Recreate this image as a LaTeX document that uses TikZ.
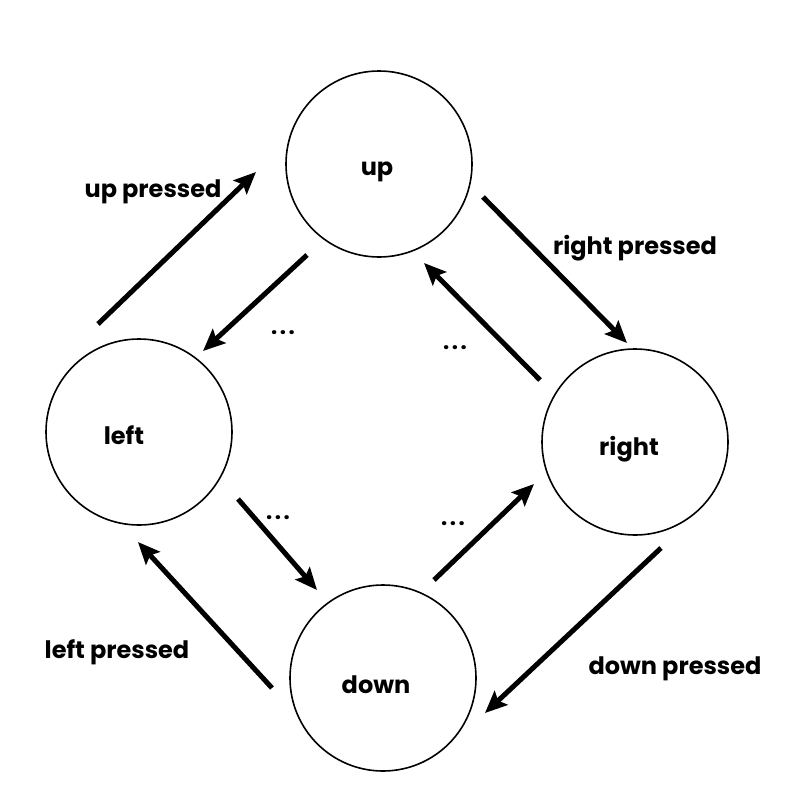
\documentclass[tikz,border=0pt]{standalone}
\usepackage{fontspec}
\setmainfont{Poppins}
\usetikzlibrary{arrows.meta}
\begin{document}
\begin{tikzpicture}[x=1pt,y=-1pt,
  state/.style={draw,circle,line width=1.6pt,minimum size=186pt,inner sep=0pt},
  conn/.style={line width=5pt,-{Stealth[length=22pt,width=19pt,inset=4pt]}},
  lbl/.style={font=\fontsize{24}{28}\selectfont\bfseries,inner sep=0pt,anchor=base},
  dots/.style={font=\fontsize{22}{26}\selectfont\bfseries,inner sep=0pt,anchor=base}]
\useasboundingbox (0,0) rectangle (800,800);
\node[state] (up) at (379,164) {};
\node[state] (left) at (139,432) {};
\node[state] (right) at (635,442) {};
\node[state] (down) at (383,678) {};
\node[lbl] (tup) at (377,175) {up};
\node[lbl] (tleft) at (124,444) {left};
\node[lbl] (tright) at (629,455) {right};
\node[lbl] (tdown) at (376,693) {down};
\node[lbl] (lup) at (153,197) {up pressed};
\node[lbl] (lright) at (635,254) {right pressed};
\node[lbl] (lleft) at (117,658) {left pressed};
\node[lbl] (ldown) at (675,674) {down pressed};
\node[dots] (d1) at (283,334) {.\hspace{2.5pt}.\hspace{2.5pt}.};
\node[dots] (d2) at (455,349) {.\hspace{2.5pt}.\hspace{2.5pt}.};
\node[dots] (d3) at (278,519) {.\hspace{2.5pt}.\hspace{2.5pt}.};
\node[dots] (d4) at (453,525) {.\hspace{2.5pt}.\hspace{2.5pt}.};
\coordinate (a1s) at (98,324); \coordinate (a1e) at (256,172);
\coordinate (a2s) at (307,255); \coordinate (a2e) at (203,351);
\coordinate (a3s) at (540,380); \coordinate (a3e) at (424,263);
\coordinate (a4s) at (483,197); \coordinate (a4e) at (627,343);
\coordinate (a5s) at (238,499); \coordinate (a5e) at (317,590);
\coordinate (a6s) at (272,688); \coordinate (a6e) at (138,542);
\coordinate (a7s) at (434,580); \coordinate (a7e) at (534,484);
\coordinate (a8s) at (661,548); \coordinate (a8e) at (485,713);
\foreach \i in {1,...,8} \draw[conn] (a\i s) -- (a\i e);
\end{tikzpicture}
\end{document}
